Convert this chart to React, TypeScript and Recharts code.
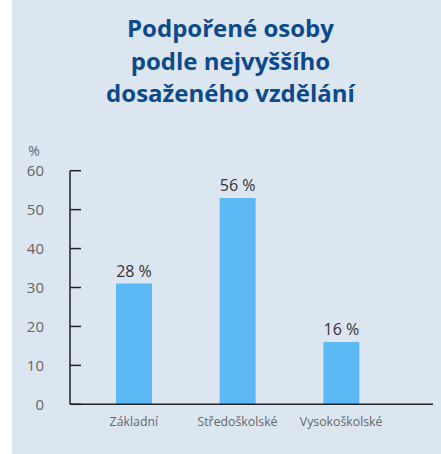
import React from 'react';
import { BarChart, Bar, XAxis, YAxis, LabelList, Label } from 'recharts';

const categories = ['Základní', 'Středoškolské', 'Vysokoškolské'];
const barValues = [31, 53, 16];
const valueLabels = ['28 %', '56 %', '16 %'];
const yTicks = [0, 10, 20, 30, 40, 50, 60];

const data = categories.map((c, i) => ({ name: c, value: barValues[i], label: valueLabels[i] }));

const FONT = '"Open Sans", "Noto Sans", sans-serif';

export default function App() {
  return (
    <div style={{ position: 'absolute', left: 12, top: 0, width: 429, height: 454, background: '#dce6f1', fontFamily: FONT }}>
      <div
        style={{
          position: 'absolute',
          top: 12,
          left: 0,
          width: 429,
          paddingLeft: 8,
          boxSizing: 'border-box',
          textAlign: 'center',
          fontWeight: 700,
          fontSize: 24,
          lineHeight: '32.5px',
          color: '#0d4a8c',
        }}
      >
        Podpořené osoby
        <br />
        podle nejvyššího
        <br />
        dosaženého vzdělání
      </div>
      <div style={{ position: 'absolute', left: 0, top: 0 }}>
        <BarChart width={429} height={454} data={data} margin={{ top: 170.7, right: 8, bottom: 19.7, left: 18 }}>
          <XAxis
            dataKey="name"
            tickLine={false}
            tickSize={0}
            tickMargin={13}
            height={30}
            padding={{ left: 12, right: 40 }}
            axisLine={{ stroke: '#222', strokeWidth: 1.5 }}
            tick={{ fill: '#666', fontSize: 12.3, fontFamily: FONT }}
            interval={0}
          />
          <YAxis
            width={40}
            domain={[0, 60]}
            ticks={yTicks}
            interval={0}
            tickSize={-11}
            tickMargin={37}
            axisLine={{ stroke: '#222', strokeWidth: 1.5 }}
            tickLine={{ stroke: '#222', strokeWidth: 1.5 }}
            tick={{ fill: '#666', fontSize: 15, fontFamily: FONT }}
          >
            <Label
              content={() => (
                <text x={22} y={150} textAnchor="middle" dominantBaseline="central" fill="#666" fontSize={14} fontFamily={FONT}>
                  %
                </text>
              )}
            />
          </YAxis>
          <Bar dataKey="value" fill="#5db9f6" barSize={36} isAnimationActive={false}>
            <LabelList dataKey="label" position="top" offset={7} fill="#333" fontSize={16} fontFamily={FONT} />
          </Bar>
        </BarChart>
      </div>
    </div>
  );
}
